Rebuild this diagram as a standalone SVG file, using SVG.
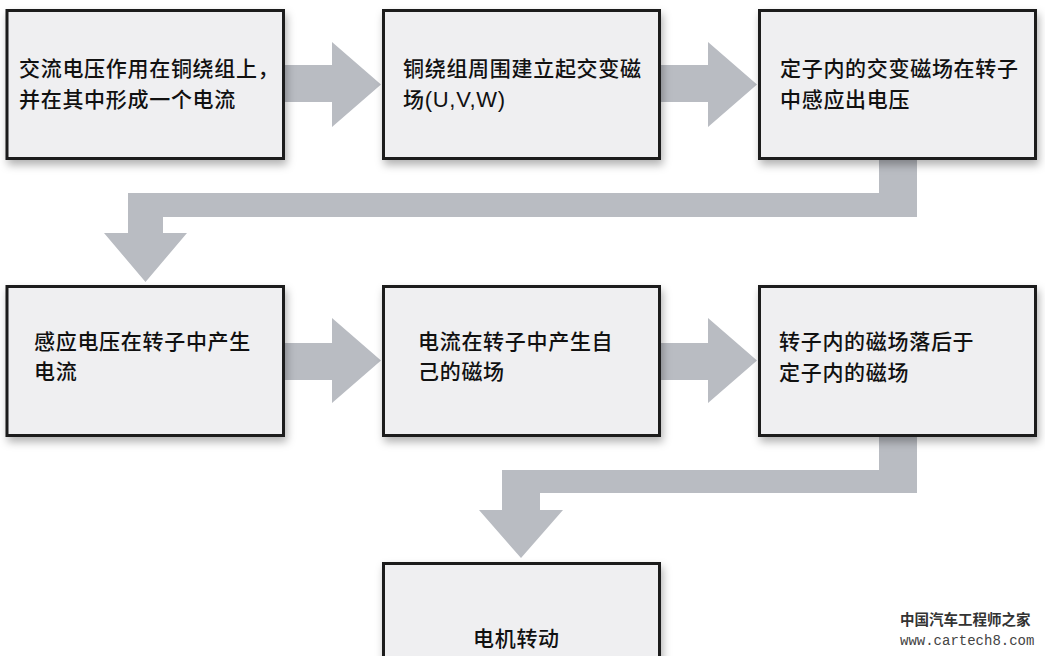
<svg xmlns="http://www.w3.org/2000/svg" width="1045" height="656" viewBox="0 0 1045 656">
  <defs>
    <filter id="shadow" x="-10%" y="-10%" width="120%" height="130%">
      <feDropShadow dx="2" dy="5" stdDeviation="4" flood-color="#000" flood-opacity="0.3"/>
    </filter>
  </defs>
  <style>
    .box { fill: #efeff1; stroke: #1c1c1c; stroke-width: 3; filter: url(#shadow); }
    .arrow { fill: #b9bcc2; }
    .label { font-family: "Noto Sans CJK SC", "Liberation Sans", sans-serif; font-size: 21px; font-weight: 500; fill: #111; letter-spacing: 0.7px; }
    .latin { font-family: "Liberation Sans", sans-serif; font-size: 22px; font-weight: 400; }
    .wm-cn { font-family: "Noto Sans CJK SC", sans-serif; font-size: 14.5px; font-weight: 700; fill: #333; }
    .wm-url { font-family: "Liberation Mono", monospace; font-size: 14px; fill: #444; }
  </style>
  <rect width="1045" height="656" fill="#ffffff"/>

  <g id="connectors">
    <polygon class="arrow" points="280,65 332,65 332,42 381,84.5 332,127 332,102 280,102"/>
    <polygon class="arrow" points="656,65 708,65 708,42 757,84.5 708,127 708,102 656,102"/>
    <polygon class="arrow" points="879,155 917,155 917,217 163,217 163,233 187,233 145.5,282 104,233 128,233 128,193 879,193"/>
    <polygon class="arrow" points="280,343 332,343 332,318 381,360.5 332,403 332,380 280,380"/>
    <polygon class="arrow" points="656,343 708,343 708,318 757,360.5 708,403 708,380 656,380"/>
    <polygon class="arrow" points="879,432 917,432 917,493 540,493 540,510 563,510 521,558 479,510 502,510 502,470 879,470"/>
  </g>

  <g id="node1">
    <rect class="box" x="7" y="10.5" width="276.5" height="148"/>
    <text class="label" x="19" y="76">交流电压作用在铜绕组上，</text>
    <text class="label" x="19" y="107">并在其中形成一个电流</text>
  </g>
  <g id="node2">
    <rect class="box" x="383.5" y="10.5" width="276" height="148"/>
    <text class="label" x="403" y="76">铜绕组周围建立起交变磁</text>
    <text class="label" x="403" y="107">场<tspan class="latin">(U,V,W)</tspan></text>
  </g>
  <g id="node3">
    <rect class="box" x="759.5" y="10.5" width="276" height="148"/>
    <text class="label" x="780" y="76">定子内的交变磁场在转子</text>
    <text class="label" x="780" y="107">中感应出电压</text>
  </g>
  <g id="node4">
    <rect class="box" x="7" y="286.5" width="276.5" height="149"/>
    <text class="label" x="34" y="349">感应电压在转子中产生</text>
    <text class="label" x="34" y="379">电流</text>
  </g>
  <g id="node5">
    <rect class="box" x="383.5" y="286.5" width="276" height="149"/>
    <text class="label" x="418" y="349">电流在转子中产生自</text>
    <text class="label" x="418" y="379">己的磁场</text>
  </g>
  <g id="node6">
    <rect class="box" x="759.5" y="286.5" width="276" height="149"/>
    <text class="label" x="779" y="349">转子内的磁场落后于</text>
    <text class="label" x="779" y="380">定子内的磁场</text>
  </g>
  <g id="node7">
    <rect class="box" x="383.5" y="563.5" width="276" height="120"/>
    <text class="label" x="473" y="646">电机转动</text>
  </g>

  <g id="watermark">
    <text class="wm-cn" x="900" y="625">中国汽车工程师之家</text>
    <text class="wm-url" x="900" y="645">www.cartech8.com</text>
  </g>
</svg>
